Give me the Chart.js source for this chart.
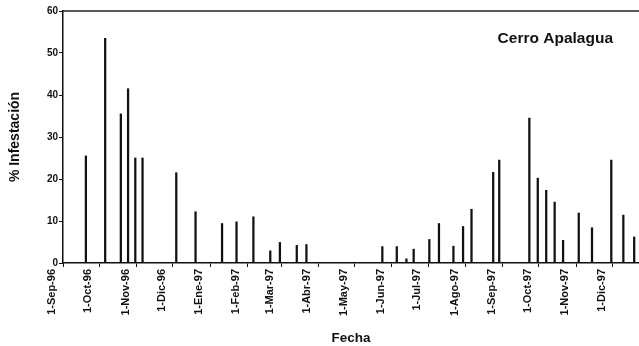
<!DOCTYPE html>
<html>
<head>
<meta charset="utf-8">
<script src="https://cdn.jsdelivr.net/npm/chart.js@4"></script>
<style>
  body { margin: 0; background: #fff; }
  #wrap { width: 639px; height: 346px; }
</style>
</head>
<body>
<div id="wrap"><canvas id="infestChart"></canvas></div>
<script>
// sampling dates and % infestation
const sampleDates = [
  '1996-09-20', '1996-10-06', '1996-10-19', '1996-10-25', '1996-10-31', '1996-11-06',
  '1996-12-04', '1996-12-20', '1997-01-11', '1997-01-23', '1997-02-06', '1997-02-20',
  '1997-02-28', '1997-03-14', '1997-03-22', '1997-05-24', '1997-06-05', '1997-06-13',
  '1997-06-19', '1997-07-02', '1997-07-10', '1997-07-22', '1997-07-30', '1997-08-06',
  '1997-08-24', '1997-08-29', '1997-09-23', '1997-09-30', '1997-10-07', '1997-10-14',
  '1997-10-21', '1997-11-03', '1997-11-14', '1997-11-30', '1997-12-10', '1997-12-19'
];
const infestation = [
  25.5, 53.5, 35.5, 41.5, 25, 25,
  21.5, 12.2, 9.4, 9.8, 11, 2.9,
  4.9, 4.2, 4.4, 3.9, 3.9, 1.0,
  3.3, 5.6, 9.4, 4.0, 8.7, 12.8,
  21.6, 24.5, 34.5, 20.2, 17.3, 14.5,
  5.4, 11.9, 8.4, 24.5, 11.4, 6.2
];
const tickDates = [
  '1996-09-01', '1996-10-01', '1996-11-01', '1996-12-01', '1997-01-01', '1997-02-01',
  '1997-03-01', '1997-04-01', '1997-05-01', '1997-06-01', '1997-07-01', '1997-08-01',
  '1997-09-01', '1997-10-01', '1997-11-01', '1997-12-01'
];
const tickLabels = [
  '1-Sep-96', '1-Oct-96', '1-Nov-96', '1-Dic-96', '1-Ene-97', '1-Feb-97',
  '1-Mar-97', '1-Abr-97', '1-May-97', '1-Jun-97', '1-Jul-97', '1-Ago-97',
  '1-Sep-97', '1-Oct-97', '1-Nov-97', '1-Dic-97'
];
const startDate = '1996-09-01';
const endDate = '1997-12-23';

const dayOf = s => (Date.parse(s) - Date.parse(startDate)) / 864e5;
const points = sampleDates.map((d, i) => ({ x: dayOf(d), y: infestation[i] }));

const ink = '#111';
const fontFam = '"Liberation Sans", Arial, sans-serif';

// top frame line and the inset label
const decor = {
  id: 'decor',
  afterDraw(chart) {
    const { ctx, chartArea } = chart;
    ctx.save();
    ctx.strokeStyle = '#222';
    ctx.lineWidth = 1.5;
    ctx.beginPath();
    ctx.moveTo(chartArea.left, chartArea.top);
    ctx.lineTo(chartArea.right, chartArea.top);
    ctx.stroke();
    ctx.fillStyle = ink;
    ctx.font = 'bold 15.5px ' + fontFam;
    ctx.textAlign = 'right';
    ctx.textBaseline = 'alphabetic';
    ctx.fillText('Cerro Apalagua', chartArea.right - 26, chartArea.top + 32);
    ctx.restore();
  }
};

new Chart(document.getElementById('infestChart'), {
  type: 'bar',
  data: {
    datasets: [{
      data: points,
      backgroundColor: ink,
      barThickness: 1.6
    }]
  },
  options: {
    responsive: true,
    maintainAspectRatio: false,
    animation: false,
    layout: { padding: { top: 11, right: 0, left: 0, bottom: 0 } },
    plugins: { legend: { display: false }, tooltip: { enabled: false } },
    scales: {
      x: {
        type: 'linear',
        min: 0,
        max: dayOf(endDate),
        offset: false,
        afterBuildTicks: s => { s.ticks = tickDates.map(d => ({ value: dayOf(d) })); },
        afterFit: s => { s.height = 83; },
        grid: { display: true, drawOnChartArea: false, offset: false, tickLength: 4, color: ink },
        border: { display: true, color: ink, width: 1.5 },
        ticks: {
          autoSkip: false,
          minRotation: 90,
          maxRotation: 90,
          labelOffset: -11,
          padding: 2,
          color: ink,
          font: { family: fontFam, size: 11, weight: 'bold' },
          callback: (v, i) => tickLabels[i]
        },
        title: {
          display: true,
          text: 'Fecha',
          color: ink,
          padding: { top: 0, bottom: 0 },
          font: { family: fontFam, size: 13.5, weight: 'bold' }
        }
      },
      y: {
        min: 0,
        max: 60,
        afterFit: s => { s.width = 63; },
        grid: { display: true, drawOnChartArea: false, tickLength: 4, color: ink },
        border: { display: true, color: ink, width: 1.5 },
        ticks: {
          stepSize: 10,
          padding: 1,
          color: ink,
          font: { family: fontFam, size: 10, weight: 'bold' }
        },
        title: {
          display: true,
          text: '% Infestación',
          color: ink,
          padding: { top: 7, bottom: 0 },
          font: { family: fontFam, size: 14, weight: 'bold' }
        }
      }
    }
  },
  plugins: [decor]
});
</script>
</body>
</html>
